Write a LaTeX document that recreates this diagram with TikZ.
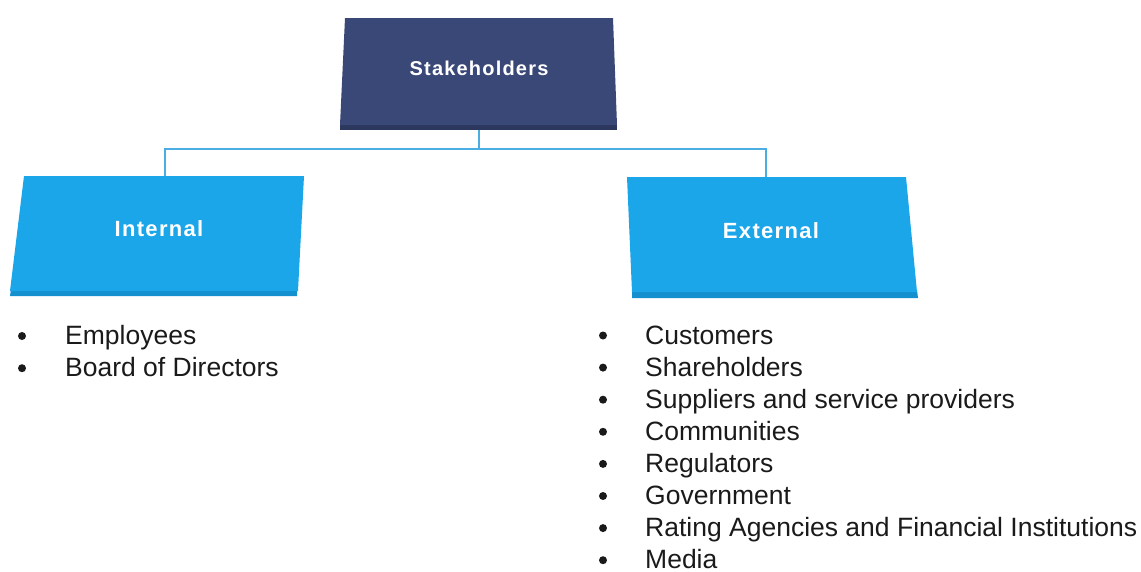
\documentclass[tikz,border=0pt]{standalone}
\usepackage{fontspec}
\setmainfont{Liberation Sans}
\newfontfamily\boxfont[LetterSpace=6]{Liberation Sans}
\begin{document}
\begin{tikzpicture}[x=1pt,y=-1pt,
  boxlabel/.style={text=white,font=\boxfont\bfseries},
  item/.style={anchor=base west,inner sep=0pt,text depth=0pt,text=listtext,font=\fontsize{26.5}{30}\selectfont},
  dot/.style={fill=listtext},
  link/.style={draw=linkblue,line width=1.8pt}]
\definecolor{navybox}{HTML}{3A4877}
\definecolor{navyedge}{HTML}{2C375E}
\definecolor{skybox}{HTML}{1BA6EA}
\definecolor{skyedge}{HTML}{1590CF}
\definecolor{linkblue}{HTML}{4BAEE2}
\definecolor{listtext}{HTML}{1A1A1A}
\useasboundingbox (0,0) rectangle (1141,571);

% box bodies, drawn slightly skewed
\fill[navyedge] (340,122) -- (617,122) -- (617,130) -- (340,130) -- cycle;
\fill[navybox] (345,18) -- (613,18) -- (617,125) -- (340,125) -- cycle;
\fill[skyedge] (11,289) -- (297,289) -- (297,296) -- (10,296) -- cycle;
\fill[skybox] (24,176) -- (304,176) -- (298,291) -- (10,291) -- cycle;
\fill[skyedge] (632,290) -- (917,290) -- (918,298) -- (632,298) -- cycle;
\fill[skybox] (627,177) -- (906,177) -- (917,292) -- (632,292) -- cycle;

% box labels
\node[boxlabel,font=\boxfont\bfseries\fontsize{20}{24}\selectfont] (stake) at (479,68) {Stakeholders};
\node[boxlabel,font=\boxfont\bfseries\fontsize{22}{26}\selectfont] (int) at (159,229) {Internal};
\node[boxlabel,font=\boxfont\bfseries\fontsize{22}{26}\selectfont] (ext) at (771,231) {External};

\coordinate (stakeB) at (479,130);
\coordinate (intT) at (165,176);
\coordinate (extT) at (766,177);
\draw[link] (stakeB) -- (479,149) -| (intT);
\draw[link] (479,149) -| (extT);

% internal stakeholders
\foreach \t [count=\i] in {Employees,Board of Directors}{
  \pgfmathsetmacro\yb{344.5+32.2*(\i-1)}
  \fill[dot] (22,\yb-8.5) circle (4);
  \node[item] (in\i) at (65,\yb) {\t};
}
% external stakeholders
\foreach \t [count=\i] in {Customers,Shareholders,Suppliers and service providers,Communities,Regulators,Government,Rating Agencies and Financial Institutions,Media}{
  \pgfmathsetmacro\yb{344+32.1*(\i-1)}
  \fill[dot] (603,\yb-8.5) circle (4);
  \node[item] (ex\i) at (645,\yb) {\t};
}
\end{tikzpicture}
\end{document}
